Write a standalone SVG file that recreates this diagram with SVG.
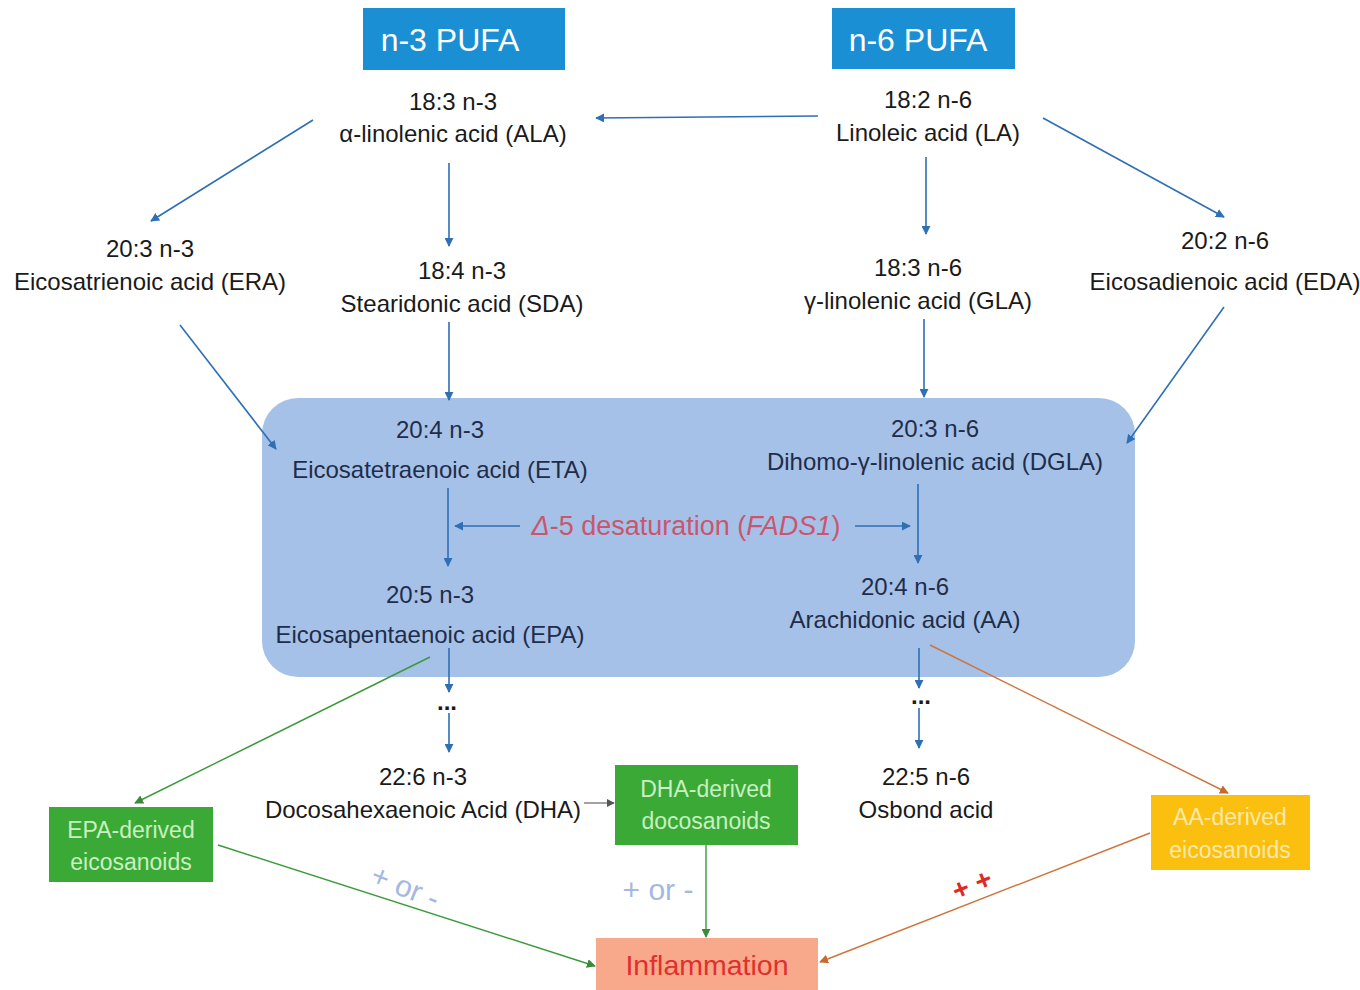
<svg xmlns="http://www.w3.org/2000/svg" width="1360" height="990" viewBox="0 0 1360 990">
<defs>
<marker id="ab" viewBox="0 0 10 10" refX="9" refY="5" markerWidth="9" markerHeight="9" orient="auto" markerUnits="userSpaceOnUse"><path d="M0,0 L10,5 L0,10 z" fill="#2e6fb6"/></marker>
<marker id="ag" viewBox="0 0 10 10" refX="9" refY="5" markerWidth="9" markerHeight="9" orient="auto" markerUnits="userSpaceOnUse"><path d="M0,0 L10,5 L0,10 z" fill="#3a8a3a"/></marker>
<marker id="ao" viewBox="0 0 10 10" refX="9" refY="5" markerWidth="9" markerHeight="9" orient="auto" markerUnits="userSpaceOnUse"><path d="M0,0 L10,5 L0,10 z" fill="#c8682a"/></marker>
<marker id="ak" viewBox="0 0 10 10" refX="9" refY="5" markerWidth="8" markerHeight="8" orient="auto" markerUnits="userSpaceOnUse"><path d="M0,0 L10,5 L0,10 z" fill="#555"/></marker>
</defs>
<style>
text{font-family:"Liberation Sans",Arial,sans-serif;text-anchor:middle}
.t{font-size:24px;fill:#1a1a1a}
.ti{font-size:24px;fill:#1f2d4a}
.hd{font-size:32px;fill:#ffffff}
.bl{stroke:#2e6fb6;stroke-width:1.6;fill:none;marker-end:url(#ab)}
.gr{stroke:#3a9a3a;stroke-width:1.4;fill:none;marker-end:url(#ag)}
.or{stroke:#d0733a;stroke-width:1.4;fill:none;marker-end:url(#ao)}
.gy{stroke:#666;stroke-width:1.2;fill:none;marker-end:url(#ak)}
.bw{font-size:23px;fill:#c9f0c0}
.yw{font-size:23px;fill:#fde8a8}
.pm{font-size:30px;fill:#a3b9df}
</style>
<rect width="1360" height="990" fill="#ffffff"/>

<g id="fads-box">
<rect x="262" y="398" width="873" height="279" rx="36" fill="#a6c1e7"/>
</g>

<g id="connectors">
<line class="bl" x1="818" y1="116" x2="596" y2="118"/>
<line class="bl" x1="313" y1="120" x2="151" y2="221"/>
<line class="bl" x1="449" y1="163" x2="449" y2="246"/>
<line class="bl" x1="926" y1="157" x2="926" y2="234"/>
<line class="bl" x1="1043" y1="118" x2="1224" y2="217"/>
<line class="bl" x1="180" y1="325" x2="276" y2="449"/>
<line class="bl" x1="449" y1="322" x2="449" y2="400"/>
<line class="bl" x1="924" y1="319" x2="924" y2="397"/>
<line class="bl" x1="1224" y1="307" x2="1127" y2="443"/>
<line class="bl" x1="448" y1="488" x2="448" y2="566"/>
<line class="bl" x1="918" y1="484" x2="918" y2="563"/>
<line class="bl" x1="520" y1="526" x2="455" y2="526"/>
<line class="bl" x1="855" y1="526" x2="910" y2="526"/>
<line class="bl" x1="449" y1="648" x2="449" y2="692"/>
<line class="bl" x1="449" y1="713" x2="449" y2="752"/>
<line class="bl" x1="919" y1="648" x2="919" y2="688"/>
<line class="bl" x1="919" y1="708" x2="919" y2="748"/>
<line class="gr" x1="430" y1="657" x2="135" y2="803"/>
<line class="gy" x1="584" y1="803" x2="614" y2="803"/>
<line class="or" x1="930" y1="645" x2="1228" y2="793"/>
<line class="gr" x1="218" y1="845" x2="595" y2="966"/>
<line class="gr" x1="706" y1="845" x2="706" y2="937"/>
<line class="or" x1="1150" y1="833" x2="820" y2="962"/>
</g>

<g id="n3-header">
<rect x="363" y="8" width="202" height="62" fill="#1b8fd4"/>
<text class="hd" x="450" y="51">n-3 PUFA</text>
</g>
<g id="n6-header">
<rect x="832" y="8" width="183" height="61" fill="#1b8fd4"/>
<text class="hd" x="918" y="51">n-6 PUFA</text>
</g>

<g id="ALA">
<text class="t" x="453" y="110">18:3 n-3</text>
<text class="t" x="453" y="142">α-linolenic acid (ALA)</text>
</g>
<g id="LA">
<text class="t" x="928" y="108">18:2 n-6</text>
<text class="t" x="928" y="141">Linoleic acid (LA)</text>
</g>
<g id="ERA">
<text class="t" x="150" y="257">20:3 n-3</text>
<text class="t" x="150" y="290">Eicosatrienoic acid (ERA)</text>
</g>
<g id="SDA">
<text class="t" x="462" y="279">18:4 n-3</text>
<text class="t" x="462" y="312">Stearidonic acid (SDA)</text>
</g>
<g id="GLA">
<text class="t" x="918" y="276">18:3 n-6</text>
<text class="t" x="918" y="309">γ-linolenic acid (GLA)</text>
</g>
<g id="EDA">
<text class="t" x="1225" y="249">20:2 n-6</text>
<text class="t" x="1225" y="290">Eicosadienoic acid (EDA)</text>
</g>
<g id="ETA">
<text class="ti" x="440" y="438">20:4 n-3</text>
<text class="ti" x="440" y="478">Eicosatetraenoic acid (ETA)</text>
</g>
<g id="DGLA">
<text class="ti" x="935" y="437">20:3 n-6</text>
<text class="ti" x="935" y="470">Dihomo-γ-linolenic acid (DGLA)</text>
</g>
<g id="FADS1">
<text x="686" y="535" style="font-size:27px;fill:#c9566f"><tspan font-style="italic">Δ</tspan>-5 desaturation (<tspan font-style="italic">FADS1</tspan>)</text>
</g>
<g id="EPA">
<text class="ti" x="430" y="603">20:5 n-3</text>
<text class="ti" x="430" y="643">Eicosapentaenoic acid (EPA)</text>
</g>
<g id="AA">
<text class="ti" x="905" y="595">20:4 n-6</text>
<text class="ti" x="905" y="628">Arachidonic acid (AA)</text>
</g>
<g id="dots-n3">
<text class="t" x="447" y="710" style="font-weight:bold">...</text>
</g>
<g id="dots-n6">
<text class="t" x="921" y="704" style="font-weight:bold">...</text>
</g>
<g id="DHA">
<text class="t" x="423" y="785">22:6 n-3</text>
<text class="t" x="423" y="818">Docosahexaenoic Acid (DHA)</text>
</g>
<g id="Osbond">
<text class="t" x="926" y="785">22:5 n-6</text>
<text class="t" x="926" y="818">Osbond acid</text>
</g>
<g id="EPA-derived">
<rect x="49" y="807" width="164" height="75" fill="#3aa935"/>
<text class="bw" x="131" y="838">EPA-derived</text>
<text class="bw" x="131" y="870">eicosanoids</text>
</g>
<g id="DHA-derived">
<rect x="615" y="765" width="183" height="80" fill="#3aa935"/>
<text class="bw" x="706" y="797">DHA-derived</text>
<text class="bw" x="706" y="829">docosanoids</text>
</g>
<g id="AA-derived">
<rect x="1151" y="795" width="159" height="75" fill="#fbbf10"/>
<text class="yw" x="1230" y="825">AA-derived</text>
<text class="yw" x="1230" y="858">eicosanoids</text>
</g>
<g id="Inflammation">
<rect x="596" y="938" width="222" height="52" fill="#f9a98b"/>
<text x="707" y="975" style="font-size:28.5px;fill:#e0302e">Inflammation</text>
</g>
<g id="labels">
<text class="pm" x="405" y="897" transform="rotate(22 405 888)">+ or -</text>
<text class="pm" x="658" y="900">+ or -</text>
<text x="973" y="894" transform="rotate(-22 973 887)" style="font-size:28px;fill:#e02828;font-weight:bold">+ +</text>
</g>
</svg>
